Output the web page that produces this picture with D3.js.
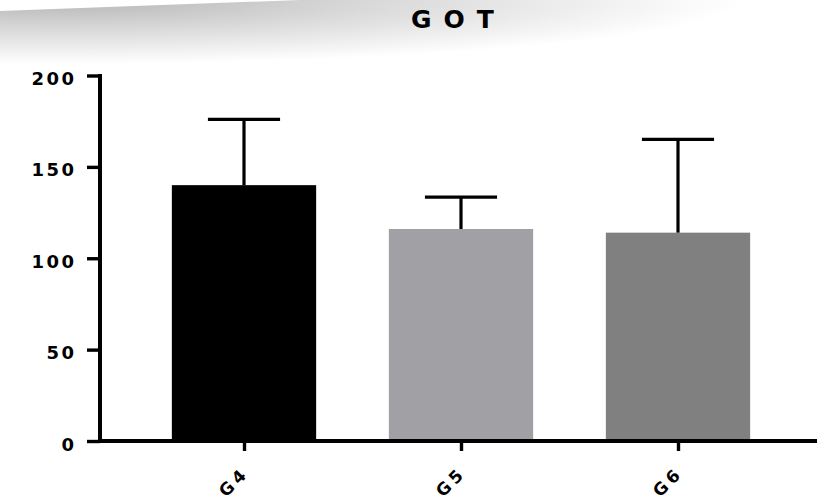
<!DOCTYPE html>
<html>
<head>
<meta charset="utf-8">
<script src="https://cdn.jsdelivr.net/npm/d3@7"></script>
<style>
  html, body { margin: 0; padding: 0; background: #fff; }
  svg { display: block; }
</style>
</head>
<body>
<script>
// GOT by group: mean and standard deviation
const groups = ["G4", "G5", "G6"];
const means = [140, 116, 114];
const sds = [36, 17.5, 51];
const barColors = ["#000000", "#a1a0a4", "#808080"];
const yTicks = [0, 50, 100, 150, 200];
const title = "GOT";

const W = 817, H = 502;
const font = "'DejaVu Sans', Verdana, sans-serif";

const svg = d3.select("body").append("svg")
  .attr("width", W).attr("height", H);

// soft grey shading along the top-left edge
const defs = svg.append("defs");
const rg = defs.append("radialGradient")
  .attr("id", "shade")
  .attr("gradientUnits", "userSpaceOnUse")
  .attr("cx", 60).attr("cy", 0).attr("r", 1)
  .attr("gradientTransform", "translate(60,0) scale(680,64) translate(-60,0)");
rg.append("stop").attr("offset", 0).attr("stop-color", "#b6b6b6");
rg.append("stop").attr("offset", 0.45).attr("stop-color", "#d8d8d8");
rg.append("stop").attr("offset", 1).attr("stop-color", "#ffffff");
svg.append("path")
  .attr("d", "M0,11 L300,0 L817,0 L817,70 L0,70 Z")
  .attr("fill", "url(#shade)");

const y = d3.scaleLinear().domain([0, 200]).range([441, 75.5]);
const x = d3.scalePoint().domain(groups).range([244, 678]);
const barW = x.step() * 0.665;

// bars
svg.append("g").selectAll("rect")
  .data(groups)
  .join("rect")
  .attr("x", (d) => x(d) - barW / 2)
  .attr("y", (d, i) => y(means[i]))
  .attr("width", barW)
  .attr("height", (d, i) => y(0) - y(means[i]))
  .attr("fill", (d, i) => barColors[i]);

// upper error bars
const eb = svg.append("g").attr("stroke", "#000").attr("stroke-width", 3.2);
eb.selectAll("line.stem")
  .data(groups)
  .join("line")
  .attr("class", "stem")
  .attr("x1", (d) => x(d)).attr("x2", (d) => x(d))
  .attr("y1", (d, i) => y(means[i]))
  .attr("y2", (d, i) => y(means[i] + sds[i]));
eb.selectAll("line.cap")
  .data(groups)
  .join("line")
  .attr("class", "cap")
  .attr("x1", (d) => x(d) - barW / 4).attr("x2", (d) => x(d) + barW / 4)
  .attr("y1", (d, i) => y(means[i] + sds[i]))
  .attr("y2", (d, i) => y(means[i] + sds[i]));

// y axis
const yAxis = svg.append("g")
  .attr("transform", "translate(100,0)")
  .call(d3.axisLeft(y).tickValues(yTicks).tickSize(13).tickSizeOuter(0).tickPadding(10.5));
yAxis.select(".domain").attr("stroke-width", 4).attr("d", `M0,${y(0) + 2}V${y(200) - 1.5}`);
yAxis.selectAll(".tick line").attr("stroke-width", 3.4);
yAxis.selectAll(".tick text")
  .attr("dy", "0.5em")
  .style("font-family", font)
  .style("font-size", "18px")
  .style("font-weight", "bold")
  .style("letter-spacing", "2.5px")
  .attr("fill", "#000");

// x axis baseline and ticks
const xAxis = svg.append("g")
  .attr("transform", `translate(0,${y(0)})`)
  .call(d3.axisBottom(x).tickSize(10).tickSizeOuter(0).tickFormat(""));
xAxis.select(".domain").attr("stroke-width", 4).attr("d", `M98,0H817`);
xAxis.selectAll(".tick line").attr("stroke-width", 3.4);

// rotated group labels
svg.append("g").selectAll("text")
  .data(groups)
  .join("text")
  .attr("transform", (d) => `translate(${x(d) + 6},474) rotate(-45)`)
  .attr("text-anchor", "end")
  .style("font-family", font)
  .style("font-size", "17px")
  .style("font-weight", "bold")
  .style("letter-spacing", "4px")
  .text((d) => d);

// title
svg.append("text")
  .attr("x", 411).attr("y", 28)
  .style("font-family", font)
  .style("font-size", "25px")
  .style("font-weight", "bold")
  .style("letter-spacing", "12px")
  .text(title);
</script>
</body>
</html>
